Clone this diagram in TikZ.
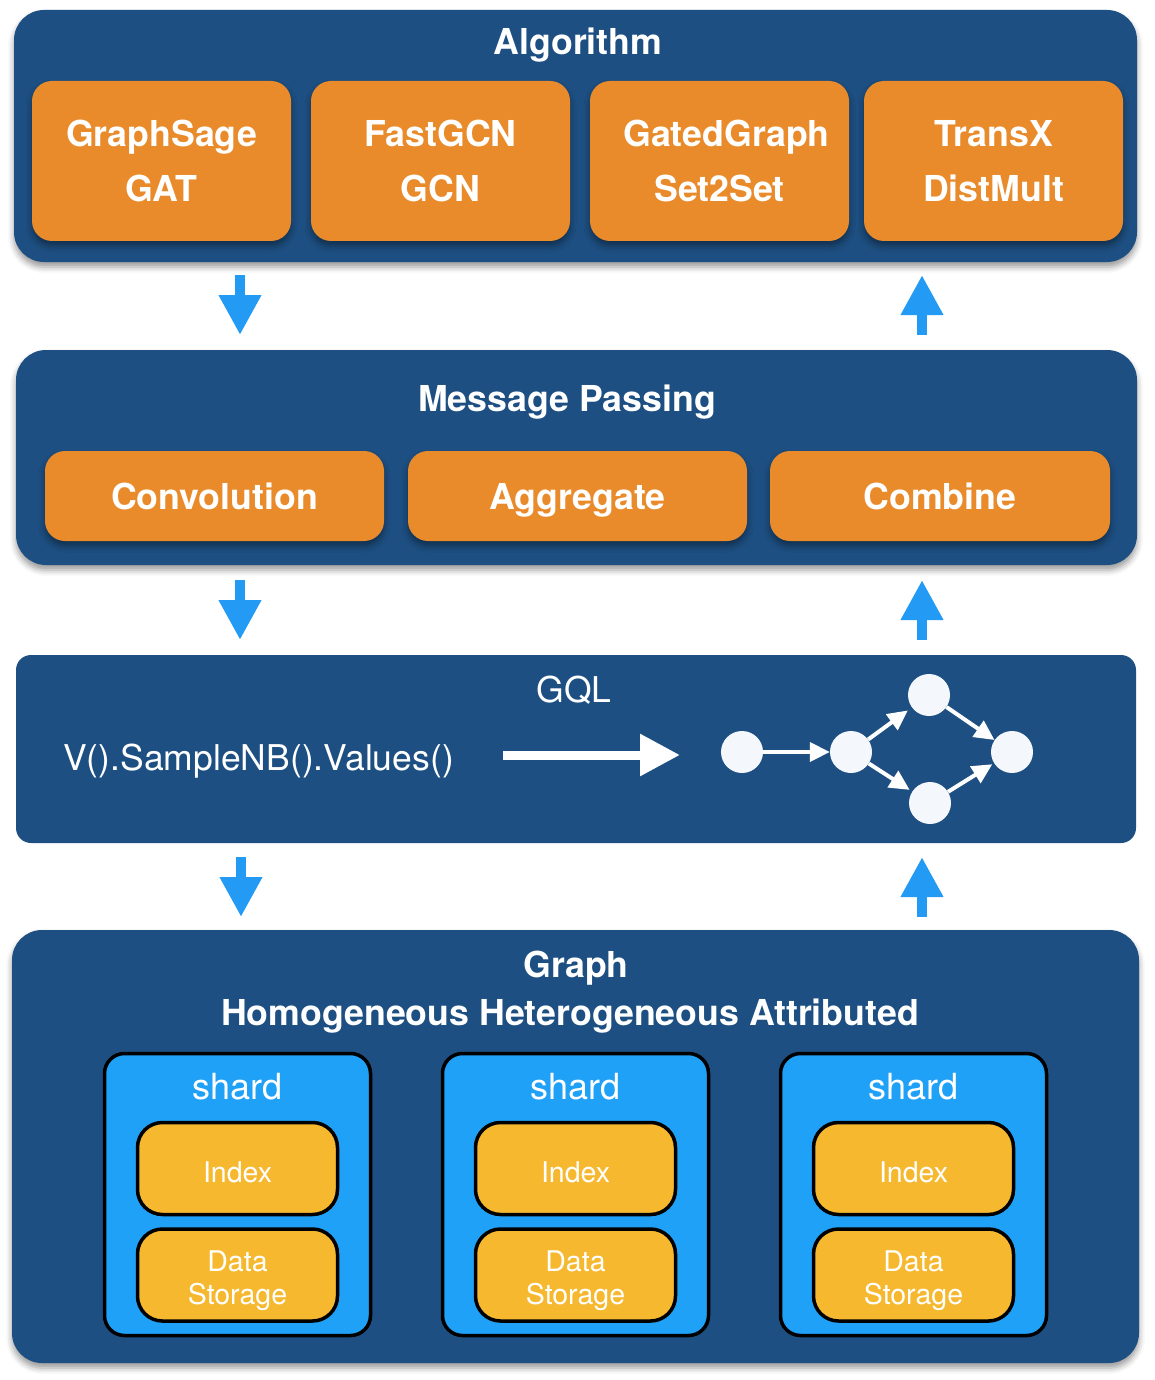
\documentclass[tikz,border=0pt]{standalone}
\usepackage{fontspec}
\setmainfont{TeX Gyre Heros}
\usetikzlibrary{arrows.meta,shadows.blur}
\definecolor{panelblue}{RGB}{29,79,130}
\definecolor{orangebox}{RGB}{233,139,43}
\definecolor{arrowblue}{RGB}{35,155,245}
\definecolor{shardblue}{RGB}{31,161,248}
\definecolor{yellowbox}{RGB}{246,184,46}
\definecolor{nodewhite}{RGB}{244,248,252}
\begin{document}
\begin{tikzpicture}[x=1pt,y=-1pt,
  softshadow/.style={blur shadow={shadow xshift=0pt,shadow yshift=-5pt,shadow blur radius=6pt,shadow opacity=40}},
  panel/.style={fill=panelblue,draw=none,rounded corners=30pt,inner sep=0pt,softshadow},
  flatpanel/.style={fill=panelblue,draw=none,rounded corners=15pt,inner sep=0pt},
  obox/.style={fill=orangebox,draw=none,rounded corners=20pt,inner sep=0pt,text=white,align=center,
    font=\fontsize{35.7}{55}\selectfont\bfseries,softshadow},
  title/.style={text=white,anchor=base,inner sep=0pt,font=\fontsize{35.7}{43}\selectfont\bfseries},
  plaintext/.style={text=white,anchor=base,inner sep=0pt,font=\fontsize{35.5}{43}\selectfont},
  shardbox/.style={fill=shardblue,draw=black,line width=3.5pt,rounded corners=20pt,inner sep=0pt,
    minimum width=266pt,minimum height=282pt},
  ybox/.style={fill=yellowbox,draw=black,line width=3.5pt,rounded corners=25pt,inner sep=0pt,
    minimum width=200pt,minimum height=92pt},
  ytext/.style={text=white,align=center,inner sep=0pt,font=\fontsize{28.5}{33}\selectfont},
  barrow/.style={draw=arrowblue,line width=10pt,-{Triangle[width=40pt,length=40pt]}},
  garrow/.style={draw=white,line width=4pt,-{Triangle[width=19pt,length=20pt]}},
  gnode/.style={circle,fill=nodewhite,draw=none,minimum size=42pt,inner sep=0pt}
]
\useasboundingbox (0,0) rectangle (1154,1380);

% ---------- Algorithm panel ----------
\node[panel,minimum width=1123pt,minimum height=252pt] (alg) at (575.5,136) {};
\node[title] (algt) at (578,55) {Algorithm};
\node[obox,minimum width=259pt,minimum height=160pt] (a1) at (161.5,161) {GraphSage\\GAT};
\node[obox,minimum width=259pt,minimum height=160pt] (a2) at (440.5,161) {FastGCN\\GCN};
\node[obox,minimum width=259pt,minimum height=160pt] (a3) at (719.5,161) {\hspace*{14pt}GatedGraph\\Set2Set};
\node[obox,minimum width=259pt,minimum height=160pt] (a4) at (993.5,161) {TransX\\DistMult};

% ---------- Message passing panel ----------
\node[panel,minimum width=1121pt,minimum height=215pt] (mp) at (576.5,457.5) {};
\node[title] (mpt) at (567,411) {Message Passing};
\node[obox,minimum width=339pt,minimum height=90pt,text depth=0pt] (m1) at (214.5,496) {Convolution};
\node[obox,minimum width=339pt,minimum height=90pt,text depth=0pt] (m2) at (577.5,496) {Aggregate};
\node[obox,minimum width=340pt,minimum height=90pt,text depth=0pt] (m3) at (940,496) {Combine};

% ---------- GQL panel ----------
\node[flatpanel,minimum width=1120pt,minimum height=188pt] (gql) at (576,749) {};
\node[plaintext] (gqlt) at (574,702) {GQL};
\node[plaintext] (query) at (258.5,770) {V().SampleNB().Values()};
\coordinate (qa) at (503,755);
\coordinate (qb) at (680,755);
\draw[draw=white,line width=9pt,-{Triangle[width=40pt,length=40pt]}] (qa) -- (qb);
\node[gnode] (n1) at (742,752) {};
\node[gnode] (n2) at (851,752) {};
\node[gnode] (n3) at (929,695) {};
\node[gnode] (n4) at (930,803) {};
\node[gnode] (n5) at (1012,752) {};
\draw[garrow] (n1) -- (n2);
\draw[garrow,shorten >=5pt] (n2) -- (n3);
\draw[garrow,shorten >=3pt] (n2) -- (n4);
\draw[garrow] (n3) -- (n5);
\draw[garrow,shorten >=2pt] (n4) -- (n5);

% ---------- Graph panel ----------
\node[panel,minimum width=1127pt,minimum height=433pt] (graph) at (575.5,1146.5) {};
\node[title] (grt) at (576,977) {Graph};
\node[title] (grsub) at (570,1025) {Homogeneous Heterogeneous Attributed};

\foreach \i/\cx in {1/237.5,2/575.5,3/913.5}{
  \node[shardbox] (s\i) at (\cx,1194.5) {};
  \node[plaintext,font=\fontsize{36}{43}\selectfont] (st\i) at (\cx,1099) {shard};
  \node[ybox] (ix\i) at (\cx,1168.5) {};
  \node[ytext] (ixt\i) at (\cx,1172) {Index};
  \node[ybox] (ds\i) at (\cx,1275) {};
  \node[ytext] (dst\i) at (\cx,1281) {Data\\Storage};
}

% ---------- Blue arrows ----------
\coordinate (d1a) at (240,275); \coordinate (d1b) at (240,335);
\coordinate (u1a) at (922,335); \coordinate (u1b) at (922,275);
\coordinate (d2a) at (240,580); \coordinate (d2b) at (240,640);
\coordinate (u2a) at (922,640); \coordinate (u2b) at (922,580);
\coordinate (d3a) at (241,857); \coordinate (d3b) at (241,917);
\coordinate (u3a) at (922,917); \coordinate (u3b) at (922,857);
\draw[barrow] (d1a) -- (d1b);
\draw[barrow] (u1a) -- (u1b);
\draw[barrow] (d2a) -- (d2b);
\draw[barrow] (u2a) -- (u2b);
\draw[barrow] (d3a) -- (d3b);
\draw[barrow] (u3a) -- (u3b);
\end{tikzpicture}
\end{document}
